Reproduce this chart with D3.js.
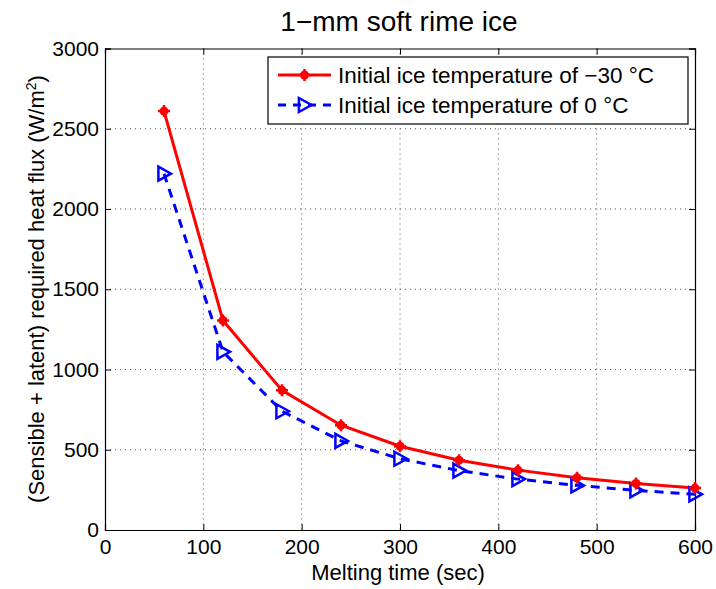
<!DOCTYPE html>
<html><head><meta charset="utf-8">
<script src="https://cdn.jsdelivr.net/npm/d3@7"></script>
<style>body{margin:0;background:#fff}text{font-family:"Liberation Sans",Arial,sans-serif}</style>
</head><body>
<svg id="c" width="716" height="589"></svg>
<script>
const times = [60,120,180,240,300,360,420,480,540,600];
const fluxCold = [2610,1305,870,653,522,435,373,326,290,261];
const fluxZero = [2220,1110,740,555,444,370,317,278,247,222];
const xTicks = [0,100,200,300,400,500,600];
const yTicks = [0,500,1000,1500,2000,2500,3000];
const seriesNames = ["Initial ice temperature of \u221230 \u00B0C","Initial ice temperature of 0 \u00B0C"];

const svg = d3.select("#c");
const L=105,R=695,T=48.5,B=530;
const x = d3.scaleLinear().domain([0,600]).range([L,R]);
const y = d3.scaleLinear().domain([0,3000]).range([B,T]);

// grid
const g = svg.append("g");
g.selectAll(".gx").data(xTicks.slice(1,-1)).enter().append("line")
 .attr("x1",d=>x(d)).attr("x2",d=>x(d)).attr("y1",T).attr("y2",B)
 .attr("stroke","#555").attr("stroke-width",1).attr("stroke-dasharray","1,4");
g.selectAll(".gy").data(yTicks.slice(1,-1)).enter().append("line")
 .attr("y1",d=>y(d)).attr("y2",d=>y(d)).attr("x1",L).attr("x2",R)
 .attr("stroke","#555").attr("stroke-width",1).attr("stroke-dasharray","1,4");

// axes
const fs=21;
const fmt=d3.format("d");
const ax = d3.axisBottom(x).tickValues(xTicks).tickSize(-6).tickPadding(9).tickFormat(fmt);
const ay = d3.axisLeft(y).tickValues(yTicks).tickSize(-6).tickPadding(6).tickFormat(fmt);
const gx = svg.append("g").attr("transform",`translate(0,${B})`).call(ax);
const gy = svg.append("g").attr("transform",`translate(${L},0)`).call(ay);
svg.append("g").attr("transform",`translate(0,${T})`).call(d3.axisTop(x).tickValues(xTicks).tickSize(-6).tickFormat(""));
svg.append("g").attr("transform",`translate(${R},0)`).call(d3.axisRight(y).tickValues(yTicks).tickSize(-6).tickFormat(""));
svg.selectAll(".domain").attr("stroke","#000").attr("stroke-width",1.2);
svg.selectAll(".tick line").attr("stroke","#000");
[gx,gy].forEach(a=>a.selectAll("text").attr("font-size",fs).attr("fill","#000").style("font-family","Liberation Sans, Arial"));
gx.selectAll("text").attr("dy","0.71em");

// lines
const line = d3.line().x((d,i)=>x(times[i])).y(d=>y(d));
svg.append("path").datum(fluxZero).attr("d",line).attr("fill","none").attr("stroke","#0000ff").attr("stroke-width",3).attr("stroke-dasharray","9,7");
svg.append("path").datum(fluxCold).attr("d",line).attr("fill","none").attr("stroke","#ff0000").attr("stroke-width",3);

function redMarker(sel,cx,cy){
  sel.append("circle").attr("cx",cx).attr("cy",cy).attr("r",4.5).attr("fill","#ff0000");
  sel.append("path").attr("d",`M${cx-6},${cy}H${cx+6}M${cx},${cy-6}V${cy+6}`).attr("stroke","#ff0000").attr("stroke-width",2.5);
}
function blueMarker(sel,cx,cy){
  const s=7;
  sel.append("path").attr("d",`M${cx-s*0.8},${cy-s}L${cx+s},${cy}L${cx-s*0.8},${cy+s}Z`)
   .attr("fill","none").attr("stroke","#0000ff").attr("stroke-width",2.5);
}
const mz = svg.append("g");
fluxZero.forEach((v,i)=>blueMarker(mz,x(times[i]),y(v)));
const mc = svg.append("g");
fluxCold.forEach((v,i)=>redMarker(mc,x(times[i]),y(v)));

// legend
const lg = svg.append("g");
lg.append("rect").attr("x",268).attr("y",57).attr("width",420).attr("height",67).attr("fill","#fff").attr("stroke","#000").attr("stroke-width",1.2);
lg.append("line").attr("x1",278).attr("x2",331).attr("y1",75).attr("y2",75).attr("stroke","#ff0000").attr("stroke-width",3);
redMarker(lg,304.5,75);
lg.append("line").attr("x1",278).attr("x2",331).attr("y1",105).attr("y2",105).attr("stroke","#0000ff").attr("stroke-width",3).attr("stroke-dasharray","8,7").attr("stroke-dashoffset",0);
blueMarker(lg,304.5,105);
lg.selectAll(".lt").data(seriesNames).enter().append("text")
 .attr("x",338).attr("y",(d,i)=>75+30*i).attr("dy","0.35em").attr("font-size",22.5).text(d=>d);

// titles
svg.append("text").attr("x",399).attr("y",31).attr("text-anchor","middle").attr("font-size",28).text("1\u2212mm soft rime ice");
svg.append("text").attr("x",398).attr("y",580).attr("text-anchor","middle").attr("font-size",22).text("Melting time (sec)");
const yl = svg.append("text").attr("transform","translate(44,289) rotate(-90)").attr("text-anchor","middle").attr("font-size",22);
yl.append("tspan").text("(Sensible + latent) required heat flux (W/m");
yl.append("tspan").attr("dy",-8).attr("font-size",14).text("2");
yl.append("tspan").attr("dy",8).text(")");
</script>
</body></html>
